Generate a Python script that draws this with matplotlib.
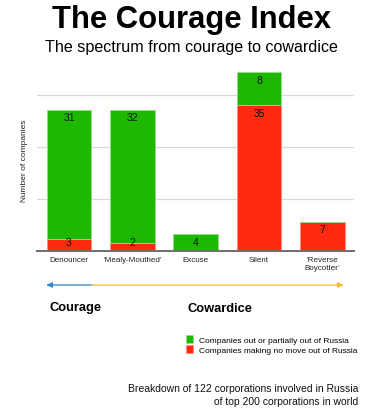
import matplotlib
matplotlib.use("Agg")
from matplotlib import pyplot as plt

plt.rcParams['font.family'] = ['Liberation Sans', 'DejaVu Sans']

categories = ["Denouncer", "\u2018Mealy-Mouthed\u2019", "Excuse", "Silent", "\u2018Reverse\nBoycotter\u2019"]
no_move = [3, 2, 0, 35, 7]
out_of_russia = [31, 32, 4, 8, 0]

green = "#1fb800"
red = "#ff2a10"

W, H = 382, 414
fig = plt.figure(figsize=(W / 100, H / 100), dpi=100)
ax = fig.add_axes([36.7 / W, 1 - 252 / H, (354 - 36.7) / W, (252 - 69) / H])

x = range(len(categories))
b_red = ax.bar(x, no_move, width=0.71, color=red, edgecolor="#ff8c80", linewidth=0.6,
               label="Companies making no move out of Russia", zorder=3)
b_green = ax.bar(x, out_of_russia, bottom=no_move, width=0.71, color=green, edgecolor="#8fe08a",
                 linewidth=0.6, label="Companies out or partially out of Russia", zorder=3)

# labels sit just under each segment top, but never drop onto the baseline
for i in x:
    for val, base in ((no_move[i], 0), (out_of_russia[i], no_move[i])):
        if val > 0:
            ypos = max(base + val - 1.8, 2.1)
            ax.text(i, ypos, str(val), ha="center", va="center", fontsize=7.5,
                    color="#111111", zorder=4)

ax.set_xlim(-0.51, 4.5)
ax.set_ylim(0, 44)
ax.set_yticks([12.5, 25, 37.5])
ax.set_yticklabels([])
ax.yaxis.grid(True, color="#d9d9d9", linewidth=0.9, zorder=0)
ax.set_xticks(list(x))
ax.set_xticklabels(categories, fontsize=5.8, color="#222222", linespacing=1.3)
ax.tick_params(length=0, pad=3.5)
for s in ("top", "right", "left"):
    ax.spines[s].set_visible(False)
ax.spines["bottom"].set_color("#6e6e6e")
ax.spines["bottom"].set_linewidth(1.4)
ax.spines["bottom"].set_zorder(5)
ax.set_ylabel("Number of companies", fontsize=6, color="#222222", labelpad=3)

fig.text(0.5, 1 - 20 / H, "The Courage Index", ha="center", va="center",
         fontsize=22.3, fontweight="bold", color="black")
fig.text(0.5, 1 - 47.5 / H, "The spectrum from courage to cowardice", ha="center", va="center",
         fontsize=11.6, color="black")

ay = H - 286
ax.annotate("", xy=(46, ay), xytext=(92, ay), xycoords="figure pixels", textcoords="figure pixels",
            arrowprops=dict(arrowstyle="-|>,head_length=0.35,head_width=0.15", color="#2f86c8",
                            lw=0.9, shrinkA=0, shrinkB=0))
ax.annotate("", xy=(344, ay), xytext=(92, ay), xycoords="figure pixels", textcoords="figure pixels",
            arrowprops=dict(arrowstyle="-|>,head_length=0.35,head_width=0.15", color="#ffb630",
                            lw=0.9, shrinkA=0, shrinkB=0))

fig.text(50 / W, 1 - 308 / H, "Courage", ha="left", va="center", fontsize=9.3, fontweight="bold")
fig.text(188 / W, 1 - 309 / H, "Cowardice", ha="left", va="center", fontsize=9.3, fontweight="bold")

fig.legend(handles=[b_green, b_red], loc="upper left", bbox_to_anchor=(183 / W, 1 - 332.5 / H),
           frameon=False, fontsize=6, handlelength=0.8, handleheight=1.1, handletextpad=0.75,
           labelspacing=0.15, borderaxespad=0)

fig.text(358 / W, 1 - 389 / H, "Breakdown of 122 corporations involved in Russia", ha="right",
         va="center", fontsize=7.45, color="#111111")
fig.text(358 / W, 1 - 402 / H, "of top 200 corporations in world", ha="right",
         va="center", fontsize=7.45, color="#111111")

fig.savefig("out.png", dpi=100)
